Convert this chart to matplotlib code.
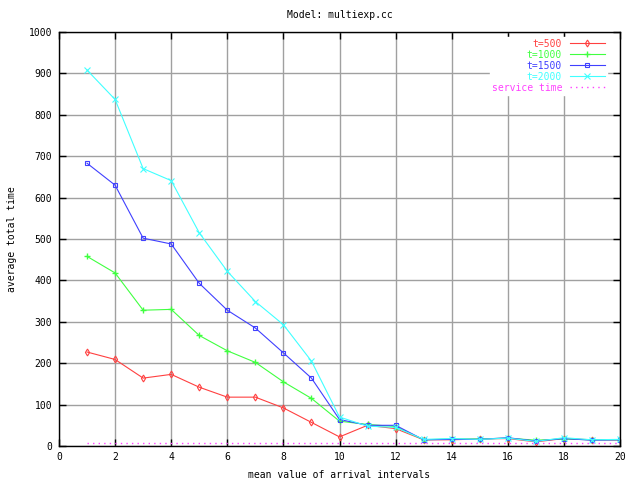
import matplotlib
matplotlib.use("Agg")
import matplotlib.pyplot as plt

# mean value of arrival intervals
x = [1, 2, 3, 4, 5, 6, 7, 8, 9, 10, 11, 12, 13, 14, 15, 16, 17, 18, 19, 20]

t500 = [227, 209, 164, 173, 142, 118, 118, 92, 57, 22, 50, 42, 15, 15, 17, 18, 10, 18, 15, 15]
t1000 = [458, 418, 328, 330, 267, 230, 202, 155, 115, 60, 52, 47, 15, 17, 17, 19, 14, 17, 15, 15]
t1500 = [683, 630, 502, 488, 393, 328, 285, 225, 164, 64, 50, 50, 15, 16, 16, 20, 12, 18, 14, 15]
t2000 = [908, 837, 670, 641, 515, 422, 349, 293, 205, 70, 48, 45, 16, 18, 16, 19, 11, 20, 15, 16]
service_time = 8

plt.rcParams["font.family"] = "DejaVu Sans Mono"
plt.rcParams["font.size"] = 7

fig = plt.figure(figsize=(6.4, 4.8), dpi=100)
ax = fig.add_axes([59 / 640, 34 / 480, 561 / 640, 414 / 480])

ax.grid(True, color="#a0a0a0", linewidth=1.0, zorder=0)
ax.set_axisbelow(True)

ax.plot(x, t500, color="#ff4040", lw=0.8, marker="d", ms=3.5, mfc="none", mew=0.8, label="t=500")
ax.plot(x, t1000, color="#40ff40", lw=0.8, marker="+", ms=5, mew=1.0, label="t=1000")
ax.plot(x, t1500, color="#4040ff", lw=0.8, marker="s", ms=3.5, mfc="none", mew=0.8, label="t=1500")
ax.plot(x, t2000, color="#40ffff", lw=0.8, marker="x", ms=4, mew=0.8, label="t=2000")
ax.plot(x, [service_time] * len(x), color="#ff40ff", lw=1.0, ls=(0, (1, 3)),
        label="service time")

ax.set_xlim(0, 20)
ax.set_ylim(0, 1000)
ax.set_xticks(range(0, 21, 2))
ax.set_yticks(range(0, 1001, 100))
ax.tick_params(direction="in", top=True, right=True, length=5, width=1)
ax.tick_params(axis="x", pad=4)
ax.tick_params(axis="y", pad=5)
for s in ax.spines.values():
    s.set_linewidth(1.0)

ax.set_title("Model: multiexp.cc", fontsize=7, pad=10)
ax.set_xlabel("mean value of arrival intervals", labelpad=6)
ax.set_ylabel("average total time", labelpad=8)

leg = ax.legend(loc="upper right", frameon=True, fancybox=False, edgecolor="white",
                framealpha=1.0, markerfirst=False, handlelength=3.6,
                borderpad=0.2, labelspacing=0.1, handletextpad=0.8,
                bbox_to_anchor=(0.985, 1.0))
for txt, line in zip(leg.get_texts(), leg.get_lines()):
    txt.set_color(line.get_color())
    txt.set_ha("right")

fig.savefig("out.png", dpi=100)
